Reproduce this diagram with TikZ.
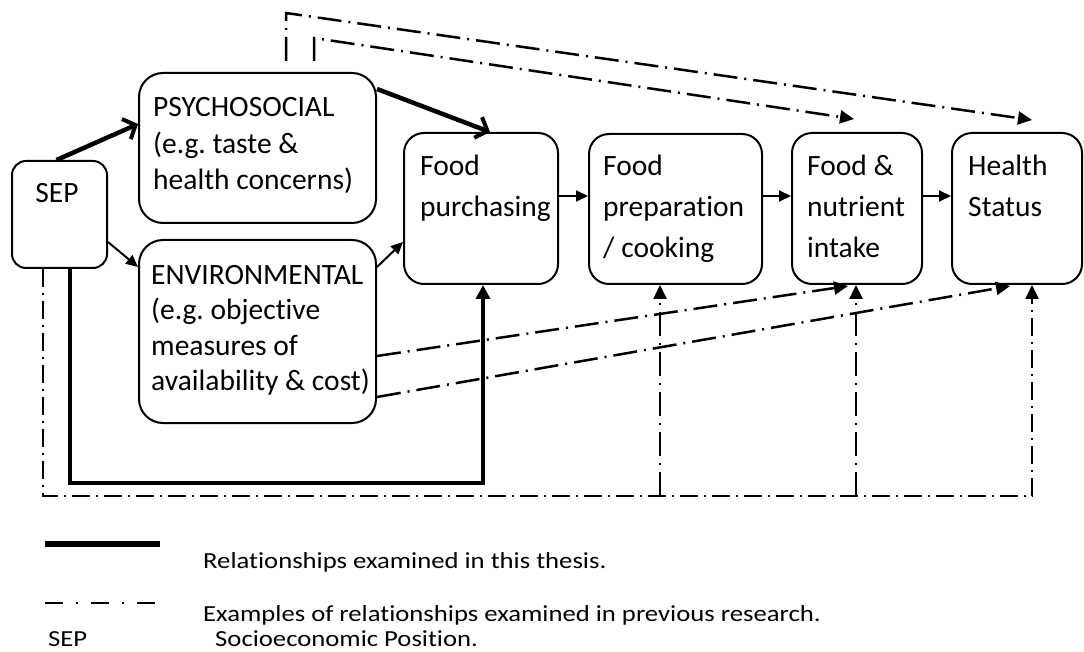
\documentclass[tikz,border=0pt]{standalone}
\usepackage{fontspec}
\usepackage{graphicx}
\setmainfont{Carlito}[Ligatures=NoCommon]
\usetikzlibrary{arrows.meta}
\frenchspacing
\newcommand{\widetext}[1]{\scalebox{1.16}[1]{#1}}
\begin{document}
\begin{tikzpicture}[x=1pt,y=-1pt,
  box/.style={draw, line width=2pt, rounded corners=20pt, inner sep=0pt},
  lbl/.style={inner sep=0pt, anchor=base west, align=left, font=\fontsize{29.5}{41}\selectfont},
  legt/.style={inner sep=0pt, anchor=base west, font=\fontsize{23}{26}\selectfont},
  thinarr/.style={line width=2pt, -{Triangle[length=12pt,width=11pt]}},
  thickarr/.style={line width=4.5pt, -{Straight Barb[length=10pt,width=22pt,line width=4pt]}},
  thickfill/.style={line width=4.5pt, -{Triangle[length=14pt,width=14pt]}},
  dd/.style={line width=2.5pt, dash pattern=on 24pt off 7pt on 2pt off 7pt},
  ddloop/.style={line width=2.5pt, dash pattern=on 18pt off 6pt on 2pt off 6pt},
  tipdd/.style={-{Triangle[length=14pt,width=13pt]}},
]
\fill[white] (0,0) rectangle (1084,652);
\useasboundingbox (0,0) rectangle (1084,652);

% boxes
\node[box, rounded corners=14pt, minimum width=95pt, minimum height=107pt] (sep) at (59.5,214.5) {};
\node[box, rounded corners=24pt, minimum width=237pt, minimum height=150pt] (psy) at (257.5,148) {};
\node[box, rounded corners=24pt, minimum width=237pt, minimum height=183pt] (env) at (257.5,331.5) {};
\node[box, minimum width=154pt, minimum height=151pt] (pur) at (481,208.5) {};
\node[box, minimum width=173pt, minimum height=150pt] (prep) at (675.5,209) {};
\node[box, minimum width=130pt, minimum height=151pt] (nut) at (857,208.5) {};
\node[box, minimum width=130pt, minimum height=151pt] (hs) at (1017,208.5) {};

% box texts (each placed by the baseline of its last line)
\node[lbl, anchor=base] (sept) at (57,203) {SEP};
\node[lbl, font=\fontsize{29.5}{36.5}\selectfont] (psyt) at (153,190) {PSYCHOSOCIAL\\(e.g. taste \&\\health concerns)};
\node[lbl, font=\fontsize{29.5}{35.5}\selectfont] (envt) at (151,390.5) {ENVIRONMENTAL\\(e.g. objective\\measures of\\availability \& cost)};
\node[lbl] (purt) at (420,217) {Food\\purchasing};
\node[lbl] (prept) at (603,258) {Food\\preparation\\/ cooking};
\node[lbl] (nutt) at (807,258) {Food \&\\nutrient\\intake};
\node[lbl] (hst) at (968,217) {Health\\Status};

% relationships examined in this thesis
\draw[thickarr] ([xshift=-3pt]sep.north) -- ([yshift=24pt]psy.west);
\draw[thickarr] ([yshift=-17pt]psy.north east) -- ([xshift=9pt]pur.north);
\draw[thickfill] ([xshift=10.5pt]sep.south) |- ([xshift=2pt,yshift=-198pt]pur.south) -- ([xshift=2pt]pur.south);

% plain links
\draw[thinarr] ([yshift=-27.5pt]sep.east) -- ([yshift=64.5pt]env.west);
\draw[thinarr] ([yshift=64.5pt]env.east) -- ([yshift=-33.5pt]pur.west);
\draw[thinarr] ([yshift=12.5pt]pur.east) -- ([yshift=13pt]prep.west);
\draw[thinarr] ([yshift=13pt]prep.east) -- ([yshift=12.5pt]nut.west);
\draw[thinarr] ([yshift=12.5pt]nut.east) -- ([yshift=12.5pt]hs.west);

% relationships examined in previous research
\draw[ddloop, tipdd] ([xshift=-16.5pt]sep.south) |- ([xshift=15pt,yshift=-211pt]hs.south) -- ([xshift=15pt]hs.south);
\draw[dd, tipdd] ([xshift=-15.5pt,yshift=-211pt]prep.south) -- ([xshift=-15.5pt]prep.south);
\draw[dd, tipdd] ([xshift=-1pt,yshift=-211pt]nut.south) -- ([xshift=-1pt]nut.south);
\draw[dd, tipdd] ([xshift=28.5pt,yshift=11pt]psy.north) -- ++(0,-48) -- ([xshift=15pt,yshift=12pt]hs.north);
\draw[dd, tipdd] ([xshift=56.5pt,yshift=11pt]psy.north) -- ++(0,-23) -- ([xshift=-3pt,yshift=13pt]nut.north);
\draw[dd, tipdd] ([yshift=-24.5pt]env.east) -- ([xshift=-9pt,yshift=-1pt]nut.south);
\draw[dd, tipdd] ([yshift=-65.5pt]env.east) -- ([xshift=-7pt,yshift=-1pt]hs.south);

% legend
\coordinate (k1a) at (45,544);
\coordinate (k1b) at (160,544);
\coordinate (k2a) at (45,603);
\coordinate (k2b) at (155,603);
\draw[line width=6pt] (k1a) -- (k1b);
\draw[line width=2pt, dash pattern=on 18pt off 13pt on 2pt off 13pt] (k2a) -- (k2b);
\node[legt] (leg1) at (203,568) {\widetext{Relationships examined in this thesis.}};
\node[legt] (leg2) at (203,621) {\widetext{Examples of relationships examined in previous research.}};
\node[legt] (leg3) at (48,646) {\widetext{SEP}};
\node[legt] (leg4) at (215,646) {\widetext{Socioeconomic Position.}};
\end{tikzpicture}
\end{document}
